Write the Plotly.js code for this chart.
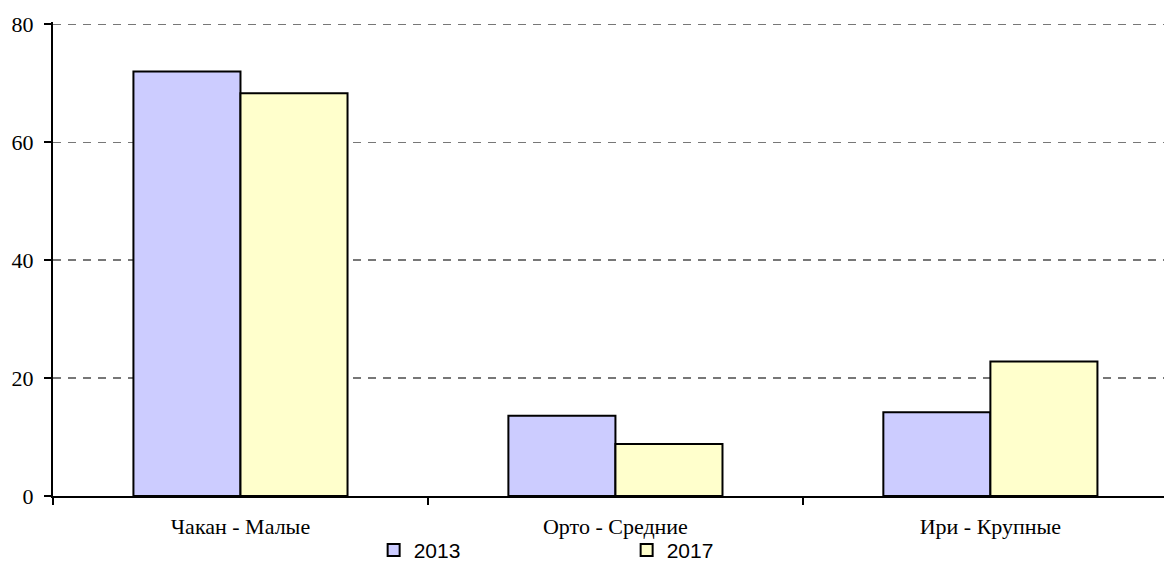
<!DOCTYPE html>
<html>
<head>
<meta charset="utf-8">
<script src="https://cdn.plot.ly/plotly-3.0.1.min.js"></script>
<style>
  html, body { margin: 0; padding: 0; background: #fff; }
  #chart { width: 1164px; height: 565px; }
</style>
</head>
<body>
<div id="chart"></div>
<script>
const categories = ['Чакан - Малые', 'Орто - Средние', 'Ири - Крупные'];
const values2013 = [72.0, 13.6, 14.2];
const values2017 = [68.3, 8.8, 22.8];
const yTicks = [0, 20, 40, 60, 80];

const barLine = { color: '#000000', width: 2 };

const traces = [
  { type: 'bar', name: '2013', x: categories, y: values2013,
    marker: { color: '#ccccff', line: barLine } },
  { type: 'bar', name: '2017', x: categories, y: values2017,
    marker: { color: '#ffffcc', line: barLine } }
];

const layout = {
  width: 1164, height: 565,
  margin: { l: 53, r: 0, t: 21.6, b: 69 },
  paper_bgcolor: '#ffffff', plot_bgcolor: '#ffffff',
  barmode: 'group', bargap: 0.429, bargroupgap: 0,
  showlegend: true,
  legend: {
    orientation: 'h', xref: 'container', yref: 'container',
    x: 0.321, y: 0.026, xanchor: 'left', yanchor: 'middle',
    entrywidth: 208, entrywidthmode: 'pixels',
    font: { family: 'Liberation Sans, Arial, sans-serif', size: 21, color: '#000' },
    itemwidth: 30, bgcolor: 'rgba(0,0,0,0)'
  },
  xaxis: {
    type: 'category', range: [-0.5, 2.463],
    showline: true, linecolor: '#000', linewidth: 2,
    ticks: 'outside', tickson: 'boundaries', ticklen: 7, tickwidth: 2, tickcolor: '#000',
    ticklabelstandoff: 10,
    tickfont: { family: 'Liberation Serif, Times New Roman, serif', size: 22, color: '#000' },
    showgrid: false, zeroline: false, fixedrange: true
  },
  yaxis: {
    range: [0, 80.4], tickvals: yTicks, ticktext: yTicks.map(String),
    showline: true, linecolor: '#000', linewidth: 2,
    ticks: 'outside', ticklen: 7, tickwidth: 2, tickcolor: '#000',
    ticklabelstandoff: 6,
    tickfont: { family: 'Liberation Serif, Times New Roman, serif', size: 22, color: '#000' },
    showgrid: true, gridcolor: '#777777', gridwidth: 1.5, griddash: '8px,7px',
    zeroline: false, fixedrange: true
  }
};

Plotly.newPlot('chart', traces, layout, { displayModeBar: false, staticPlot: true });
</script>
</body>
</html>
